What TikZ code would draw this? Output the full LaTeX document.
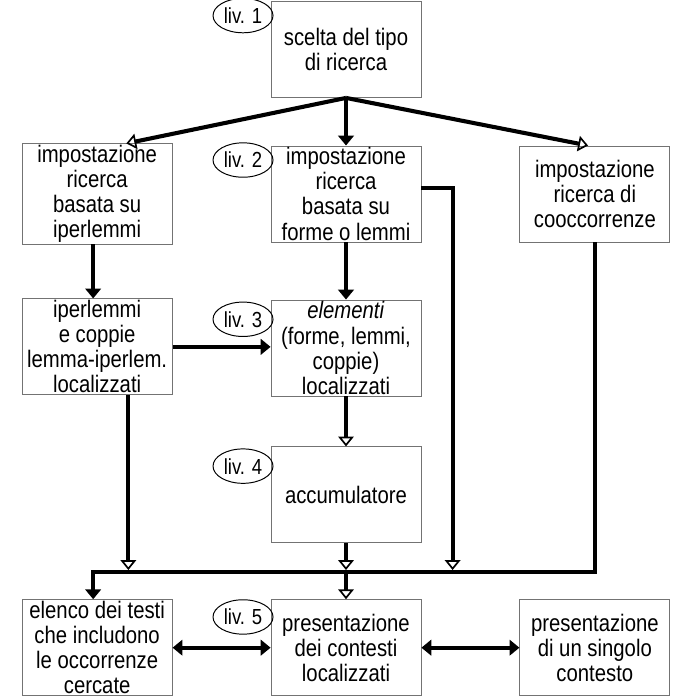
\documentclass[tikz,border=0pt]{standalone}
\usepackage{fontspec}
\setmainfont{Liberation Sans}[FakeStretch=0.85]
\usetikzlibrary{arrows.meta, positioning, shapes.geometric}
\tikzstyle{block} = [draw=black!55, line width=0.6pt, rectangle, minimum width=3.75cm, minimum height=2.4cm, align=center, inner sep=1pt, font=\fontsize{17}{17.8}\selectfont]
\tikzstyle{badge} = [draw, ellipse, line width=0.7pt, minimum width=1.5cm, minimum height=0.86cm, inner sep=-1.5pt, font=\fontsize{15.5}{16}\selectfont]
\tikzstyle{flow} = [-{Triangle[length=7pt, width=11pt]}, line width=2.9pt]
\tikzstyle{flowopen} = [-{Triangle[open, length=7pt, width=11pt, line width=1.2pt]}, line width=2.9pt]
\tikzstyle{twoway} = [{Triangle[length=7pt, width=11pt]}-{Triangle[length=7pt, width=11pt]}, line width=2.9pt]

\begin{document}
\begin{tikzpicture}[node distance=1.25cm and 2.45cm]
    \useasboundingbox (-8.65,1.2375) rectangle (8.85,-16.2625);

    % Boxes.
    \node (scelta) [block] {scelta del tipo\\di ricerca};
    \node (forme) [block, below=1.19cm of scelta] {impostazione\\ricerca\\basata su\\forme o lemmi};
    \node (iperimp) [block, left=of forme] {impostazione\\ricerca\\basata su\\iperlemmi};
    \node (cooc) [block, right=of forme] {impostazione\\ricerca di\\cooccorrenze};
    \node (elementi) [block, below=1.43cm of forme] {\textit{elementi}\\(forme, lemmi,\\coppie)\\localizzati};
    \node (iperloc) [block, below=1.35cm of iperimp] {iperlemmi\\e coppie\\lemma-iperlem.\\localizzati};
    \node (accum) [block, below=of elementi] {accumulatore};
    \node (contesti) [block, below=1.4cm of accum] {presentazione\\dei contesti\\localizzati};
    \node (testi) [block, left=of contesti] {elenco dei testi\\che includono\\le occorrenze\\cercate};
    \node (singolo) [block, right=of contesti] {presentazione\\di un singolo\\contesto};

    % Levels.
    \node (liv1) [badge, below left=0.05cm and 0.15cm of scelta.north west] {liv. 1};
    \node (liv2) [badge, below left=0.05cm and 0.15cm of forme.north west] {liv. 2};
    \node (liv3) [badge, below left=0.18cm and 0.15cm of elementi.north west] {liv. 3};
    \node (liv4) [badge, below left=0.18cm and 0.15cm of accum.north west] {liv. 4};
    \node (liv5) [badge, below left=0.13cm and 0.15cm of contesti.north west] {liv. 5};

    % Collecting line.
    \coordinate (bus) at ([yshift=0.68cm]contesti.north);
    \coordinate (busL) at ([xshift=-0.1cm]testi.north |- bus);
    \coordinate (tap) at ([xshift=0.78cm]forme.east);
    \coordinate (drop) at ([xshift=0.78cm]iperloc.south);

    % Arrows.
    \draw [flowopen] (scelta.south) -- (iperimp.60);
    \draw [flow] (scelta.south) -- (forme);
    \draw [flowopen] (scelta.south) -- (cooc.98);
    \draw [flow] ([xshift=-0.1cm]iperimp.south) -- ([xshift=-0.1cm]iperloc.north);
    \draw [flow] (forme) -- (elementi);
    \draw [flow] (iperloc.east) -- (iperloc.east -| elementi.west);
    \draw [flowopen] (elementi) -- (accum);

    \draw [flowopen, shorten >=1.45pt] ([yshift=0.15cm]forme.east) -| (tap |- bus);
    \draw [flowopen, shorten >=1.45pt] (drop) -- (drop |- bus);
    \draw [flowopen, shorten >=1.45pt] (accum) -- (accum |- bus);
    \draw [flow] (cooc.south) |- (busL) -- (busL |- testi.north);
    \draw [flowopen] (contesti.north |- bus) -- (contesti);

    \draw [twoway] (testi) -- (contesti);
    \draw [twoway] (contesti) -- (singolo);
\end{tikzpicture}
\end{document}
